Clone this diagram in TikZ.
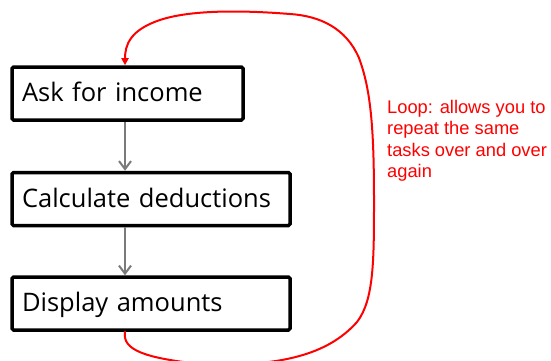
\documentclass[tikz,border=0pt]{standalone}
\usepackage{fontspec}
\setmainfont{Open Sans}
\newfontfamily\notefont{Liberation Sans}
\usetikzlibrary{arrows.meta}

\begin{document}
\begin{tikzpicture}[x=1pt,y=-1pt,
  stepbox/.style={draw,line width=3.5pt,rounded corners=1.5pt,minimum height=53pt,
      inner xsep=10pt,align=left,text height=16pt,text depth=0pt,
      font=\fontsize{25.5}{30}\selectfont},
  flow/.style={draw=black!52,line width=2.6pt,-{Straight Barb[length=8pt,width=12pt,line width=2pt]}},
  loopline/.style={draw=red,line width=2pt,line cap=round,-{Triangle[length=7pt,width=7pt]}}]
\useasboundingbox (0,0) rectangle (551,361);

\node[stepbox,text width=211pt] (ask) at (127.5,93.5) {Ask for income};
\node[stepbox,text width=258pt] (calc) at (151,199) {Calculate deductions};
\node[stepbox,text width=258pt] (show) at (151,303.5) {Display amounts};

% straight flow
\draw[flow] ([xshift=-2.5pt]ask.south) -- ([xshift=-2.5pt]ask.south |- calc.north);
\draw[flow] ([xshift=-2.5pt]ask.south |- calc.south) -- ([xshift=-2.5pt]ask.south |- show.north);

% the loop back to the top
\draw[loopline] ([xshift=-2.5pt]ask.south |- show.south)
  .. controls (122,350) and (145,358) .. (200,364)
  .. controls (290,368) and (332,350) .. (357,322)
  .. controls (374,300) and (374,260) .. (374,200)
  .. controls (374,130) and (371,90) .. (359,58)
  .. controls (346,28) and (320,16) .. (290,14)
  .. controls (240,10) and (190,10) .. (160,20)
  .. controls (130,30) and (125,45) .. ([xshift=-2.5pt]ask.north);

\node[anchor=north west,inner sep=0pt,align=left,text=red,
      font=\notefont\fontsize{18.3}{21.5}\selectfont] (note) at (387,100)
  {Loop: allows you to\\repeat the same\\tasks over and over\\again};
\end{tikzpicture}
\end{document}
